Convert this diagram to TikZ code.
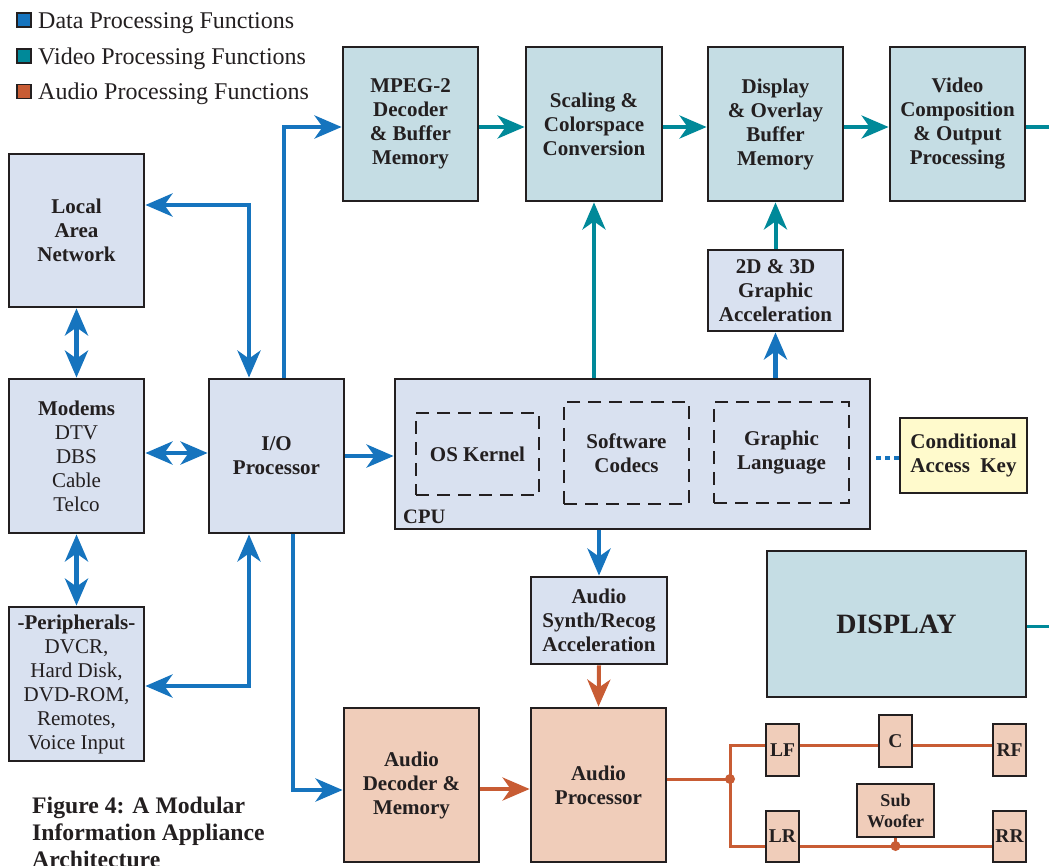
\documentclass[tikz,border=0pt]{standalone}
\usepackage{fontspec}
\setmainfont{Liberation Serif}
\usetikzlibrary{arrows.meta,calc}
\definecolor{datac}{RGB}{22,116,190}
\definecolor{vidc}{RGB}{0,137,153}
\definecolor{audc}{RGB}{200,92,52}
\definecolor{datafill}{RGB}{217,225,240}
\definecolor{vidfill}{RGB}{197,221,228}
\definecolor{audfill}{RGB}{240,205,186}
\definecolor{keyfill}{RGB}{255,250,204}
\definecolor{ink}{RGB}{35,31,32}
\begin{document}
\begin{tikzpicture}[x=1pt,y=-1pt,
  >={Stealth[length=27pt,width=23pt,inset=8pt]},
  box/.style={draw=ink, line width=2.8pt, inner sep=0pt, align=center, text=ink,
    font=\bfseries\fontsize{21}{24}\selectfont},
  databox/.style={box, fill=datafill},
  vidbox/.style={box, fill=vidfill},
  audbox/.style={box, fill=audfill},
  keybox/.style={box, fill=keyfill},
  spkbox/.style={audbox, font=\bfseries\fontsize{19.5}{21}\selectfont},
  swbox/.style={draw=ink, line width=2.8pt, dash pattern=on 13pt off 8pt, inner sep=0pt,
    align=center, text=ink, font=\bfseries\fontsize{21}{24}\selectfont},
  wh/.style 2 args={minimum width=#1pt, minimum height=#2pt},
  data/.style={draw=datac, line width=4.5pt},
  vid/.style={draw=vidc, line width=4pt},
  aud/.style={draw=audc, line width=4pt},
  spk/.style={draw=audc, line width=3pt},
  legsq/.style={draw=ink, line width=1.3pt, minimum size=14pt, inner sep=0pt},
  legtxt/.style={anchor=base west, inner sep=0pt, text=ink, font=\fontsize{24}{28}\selectfont}
]
\useasboundingbox (0,0) rectangle (1049,865);
\clip (0,0) rectangle (1049,865);

% legend
\node[legsq, fill=datac] (lg1) at (24,20) {};
\node[legtxt] (lt1) at (38,28) {Data Processing Functions};
\node[legsq, fill=vidc] (lg2) at (24,56) {};
\node[legtxt] (lt2) at (38,64) {Video Processing Functions};
\node[legsq, fill=audc] (lg3) at (24,91.5) {};
\node[legtxt] (lt3) at (38,99.5) {Audio Processing Functions};

% left column
\node[databox, wh={135}{153}] (lan) at (76.5,230.5) {Local\\Area\\Network};
\node[databox, wh={135}{154}, font=\fontsize{21}{24}\selectfont] (modems) at (76.5,456)
  {\textbf{Modems}\\DTV\\DBS\\Cable\\Telco};
\node[databox, wh={135}{154}, font=\fontsize{21}{24}\selectfont] (peri) at (76.5,684)
  {\textbf{-Peripherals-}\\DVCR,\\Hard Disk,\\DVD-ROM,\\Remotes,\\Voice Input};
\node[databox, wh={135}{154}] (io) at (276.5,456) {I/O\\Processor};

% video row
\node[vidbox, wh={135}{154}] (mpeg) at (410.5,124) {MPEG-2\\Decoder\\\& Buffer\\Memory};
\node[vidbox, wh={136}{154}] (scal) at (594,124) {Scaling \&\\Colorspace\\Conversion};
\node[vidbox, wh={135}{154}] (dispov) at (775.5,124) {Display\\\& Overlay\\Buffer\\Memory};
\node[vidbox, wh={135}{154}] (vcomp) at (957.5,124) {Video\\Composition\\\& Output\\Processing};
\node[databox, wh={135}{81}] (gfx) at (775.5,290.5) {2D \& 3D\\Graphic\\Acceleration};

% CPU
\node[databox, wh={475}{150}] (cpu) at (632.5,454) {};
\node[anchor=base west, inner sep=0pt, text=ink, font=\bfseries\fontsize{20.5}{24}\selectfont] (cpulbl) at (403,523) {CPU};
\node[swbox, wh={123}{82}] (oskern) at (477.5,454) {OS Kernel};
\node[swbox, wh={125}{102}] (codecs) at (626.5,453) {Software\\Codecs};
\node[swbox, wh={135}{101}] (glang) at (781.5,452.5) {Graphic\\Language};
\node[keybox, wh={127}{75}] (cak) at (963.5,455.5) {Conditional\\Access\ \ Key};

% display
\node[vidbox, wh={259}{146}, font=\bfseries\fontsize{28}{32}\selectfont] (display) at (896.5,624) {DISPLAY};

% audio
\node[databox, wh={136}{87}] (synth) at (599,620.5) {Audio\\Synth/Recog\\Acceleration};
\node[audbox, wh={135}{154}] (aproc) at (598.5,785) {Audio\\Processor};
\node[audbox, wh={135}{154}] (adec) at (411.5,785) {Audio\\Decoder \&\\Memory};

% speakers
\node[spkbox, wh={33}{52}] (lf) at (782.5,750) {LF};
\node[spkbox, wh={33}{52}] (cc) at (895.5,741) {C};
\node[spkbox, wh={33}{52}] (rf) at (1009.5,750) {RF};
\node[audbox, wh={77}{53}, font=\bfseries\fontsize{18}{21}\selectfont] (sub) at (895.5,810.5) {Sub\\Woofer};
\node[spkbox, wh={33}{51}] (lr) at (782.5,836.5) {LR};
\node[spkbox, wh={33}{51}] (rr) at (1009.5,836.5) {RR};

% caption
\node[anchor=north west, align=left, inner sep=0pt, text=ink,
  font=\bfseries\fontsize{23.7}{27}\selectfont] (cap) at (32,797)
  {Figure 4: A Modular\\Information Appliance\\Architecture};

% data connectors
\draw[data,->] ([xshift=7.5pt]io.north) |- ([yshift=-3pt]mpeg.west);
\draw[data,<->] ([yshift=25.5pt]lan.east) -| ([xshift=-27.5pt]io.north);
\draw[data,<->] (lan.south) -- (modems.north);
\draw[data,<->] ([yshift=3pt]modems.east) -- ([yshift=3pt]io.west);
\draw[data,<->] (modems.south) -- (peri.north);
\draw[data,<->] ([xshift=-27.5pt]io.south) |- ([yshift=-2pt]peri.east);
\draw[data,->] ([xshift=16.5pt]io.south) |- ([yshift=-5pt]adec.west);
\draw[data,->] (io.east) -- (io.east -| cpu.west);
\draw[data,->] (cpu.south -| synth.north) -- (synth.north);
\draw[data,->] (cpu.north -| gfx.south) -- (gfx.south);
\draw[data, line width=4pt, dash pattern=on 5pt off 4pt, shorten <=5pt]
  ([yshift=-2.5pt]cak.west -| cpu.east) -- ([yshift=-2.5pt]cak.west);

% video connectors
\draw[vid,->] (cpu.north -| scal.south) -- (scal.south);
\draw[vid,->] (gfx.north) -- (dispov.south);
\draw[vid,->] ([yshift=-3pt]mpeg.east) -- ([yshift=-3pt]scal.west);
\draw[vid,->] ([yshift=-3pt]scal.east) -- ([yshift=-3pt]dispov.west);
\draw[vid,->] ([yshift=-3pt]dispov.east) -- ([yshift=-3pt]vcomp.west);
\coordinate (vout) at (1049,127);
\draw[vid, line width=3.5pt] ([yshift=-3pt]vcomp.east) -- (vout);
\coordinate (dout) at (1049,626);
\draw[vid, line width=3pt] ([yshift=-2pt]display.east) -- (dout);

% audio connectors
\draw[aud,->] (synth.south) -- (aproc.north);
\draw[aud,->] ([yshift=-4pt]adec.east) -- ([yshift=-4pt]aproc.west);
\coordinate (j) at (730,779);
\draw[spk] ([yshift=6pt]aproc.east) -- (j);
\draw[spk] ([yshift=5pt]lf.west) -| (j) |- ([yshift=-9.5pt]lr.west);
\draw[spk] ([yshift=5pt]lf.east) -- ([yshift=5pt]lf.east -| cc.west);
\draw[spk] ([yshift=5pt]lf.east -| cc.east) -- ([yshift=5pt]rf.west);
\draw[spk] ([yshift=-9.5pt]lr.east) -- ([yshift=-9.5pt]rr.west);
\coordinate (sj) at ([yshift=-9.5pt]lr.east -| sub.south);
\draw[spk] (sub.south) -- (sj);
\fill[audc] (j) circle (5);
\fill[audc] (sj) circle (5);
\end{tikzpicture}
\end{document}
